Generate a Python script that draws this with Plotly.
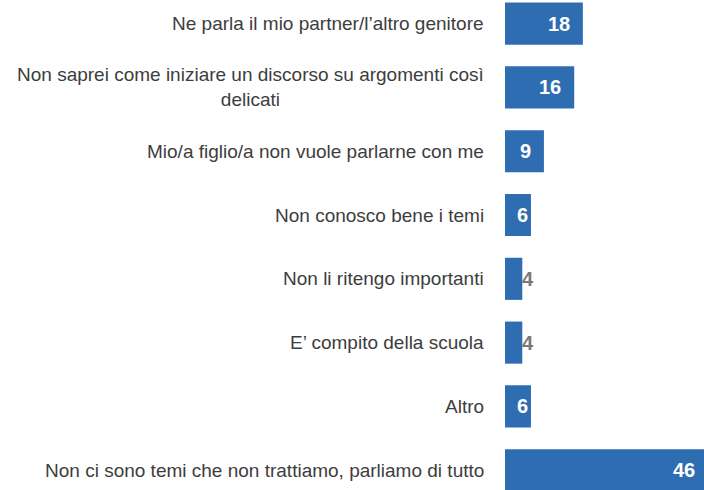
import plotly.graph_objects as go

categories = [
    "Ne parla il mio partner/l’altro genitore",
    "Non saprei come iniziare un discorso su argomenti così<br>delicati",
    "Mio/a figlio/a non vuole parlarne con me",
    "Non conosco bene i temi",
    "Non li ritengo importanti",
    "E’ compito della scuola",
    "Altro",
    "Non ci sono temi che non trattiamo, parliamo di tutto",
]
values = [18, 16, 9, 6, 4, 4, 6, 46]

BAR = "#2f6db3"
ypos = list(range(len(categories)))

fig = go.Figure(go.Bar(
    x=values, y=ypos, orientation="h",
    marker=dict(color=BAR, line=dict(width=0)),
    width=0.66, hoverinfo="skip",
))

ann = []
for i, (c, v) in enumerate(zip(categories, values)):
    ann.append(dict(x=0, xref="paper", y=i, yref="y", text=c, showarrow=False,
                    xanchor="right", yanchor="middle", align="center", xshift=-19,
                    font=dict(family="Liberation Sans, Arial", size=19, color="#3d3d3d")))
    if v >= 6:
        shift = -11 if v >= 9 else -1
        if v > 40:
            shift = -7
        ann.append(dict(x=v, y=i, text=f"<b>{v}</b>", showarrow=False, xanchor="right",
                        yanchor="middle", xshift=shift,
                        font=dict(family="Liberation Sans, Arial", size=20, color="white")))
    else:
        ann.append(dict(x=v, y=i, text=f"<b>{v}</b>", showarrow=False, xanchor="left",
                        yanchor="middle", xshift=-2,
                        font=dict(family="Liberation Sans, Arial", size=20, color="#7a7a7a")))

fig.update_layout(
    width=704, height=490,
    margin=dict(l=505, r=0, t=0, b=0),
    paper_bgcolor="white", plot_bgcolor="white",
    showlegend=False,
    xaxis=dict(range=[0, 46], visible=False, fixedrange=True),
    yaxis=dict(range=[7.31, -0.37], visible=False, fixedrange=True),
    annotations=ann,
)

fig.write_html("out.html", config={"displayModeBar": False},
               post_script="document.body.style.margin='0';")
